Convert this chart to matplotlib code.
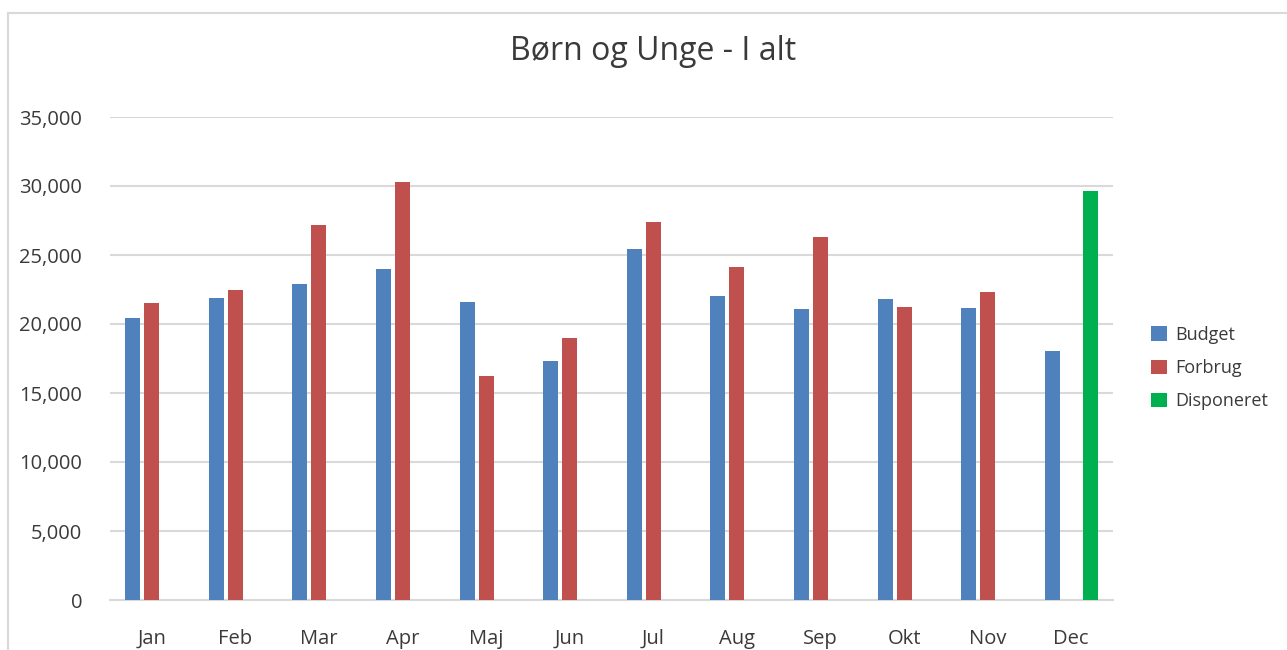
import matplotlib.pyplot as plt
import numpy as np
from matplotlib.lines import Line2D
from matplotlib.ticker import FuncFormatter

plt.rcParams['font.family'] = ['Open Sans', 'DejaVu Sans']

months = ['Jan', 'Feb', 'Mar', 'Apr', 'Maj', 'Jun', 'Jul', 'Aug', 'Sep', 'Okt', 'Nov', 'Dec']
budget = [20400, 21850, 22870, 24020, 21560, 17300, 25400, 22000, 21060, 21780, 21130, 18020]
forbrug = [21490, 22500, 27140, 30320, 16210, 18960, 27420, 24100, 26340, 21200, 22290, np.nan]
disponeret = [np.nan] * 11 + [29670]

fig = plt.figure(figsize=(12.87, 6.5), dpi=100)
ax = fig.add_axes([110 / 1287, 50 / 650, 1003 / 1287, 483 / 650])

x = np.arange(len(months))
step = 19 / 83.6
w = 15 / 83.6
ax.bar(x - step, budget, w, color='#4F81BD', label='Budget', zorder=3)
ax.bar(x, forbrug, w, color='#C0504D', label='Forbrug', zorder=3)
ax.bar(x + step, disponeret, w, color='#00B050', label='Disponeret', zorder=3)

ax.set_xlim(-0.5, 11.5)
ax.set_ylim(0, 35000)
ax.set_yticks(range(0, 35001, 5000))
ax.yaxis.set_major_formatter(FuncFormatter(lambda v, p: f'{int(v):,}'))
ax.set_xticks(x)
ax.set_xticklabels(months)
ax.tick_params(length=0, labelsize=14.5, colors='#3a3a3a')
ax.tick_params(axis='y', pad=20)
ax.tick_params(axis='x', pad=21)
ax.grid(axis='y', color='#d9d9d9', linewidth=1.5, zorder=0)
for s in ['top', 'right', 'left']:
    ax.spines[s].set_visible(False)
ax.spines['bottom'].set_color('#d9d9d9')
ax.spines['bottom'].set_linewidth(1.5)

fig.text(653 / 1287, 1 - 52 / 650, 'Børn og Unge - I alt', ha='center', va='center',
         fontsize=23, color='#3a3a3a')

ax.legend(loc='center left', bbox_to_anchor=(1135 / 1287, 1 - 368 / 650),
          bbox_transform=fig.transFigure, frameon=False, fontsize=13,
          handlelength=0.85, handleheight=0.85, handletextpad=0.5, labelspacing=0.85,
          labelcolor='#3a3a3a')

# outer chart border
fig.add_artist(Line2D([8 / 1287, 1], [1 - 13 / 650, 1 - 13 / 650], color='#d9d9d9', lw=1.5))
fig.add_artist(Line2D([8 / 1287, 8 / 1287], [0, 1 - 13 / 650], color='#d9d9d9', lw=1.5))

fig.savefig('out.png', dpi=100)
